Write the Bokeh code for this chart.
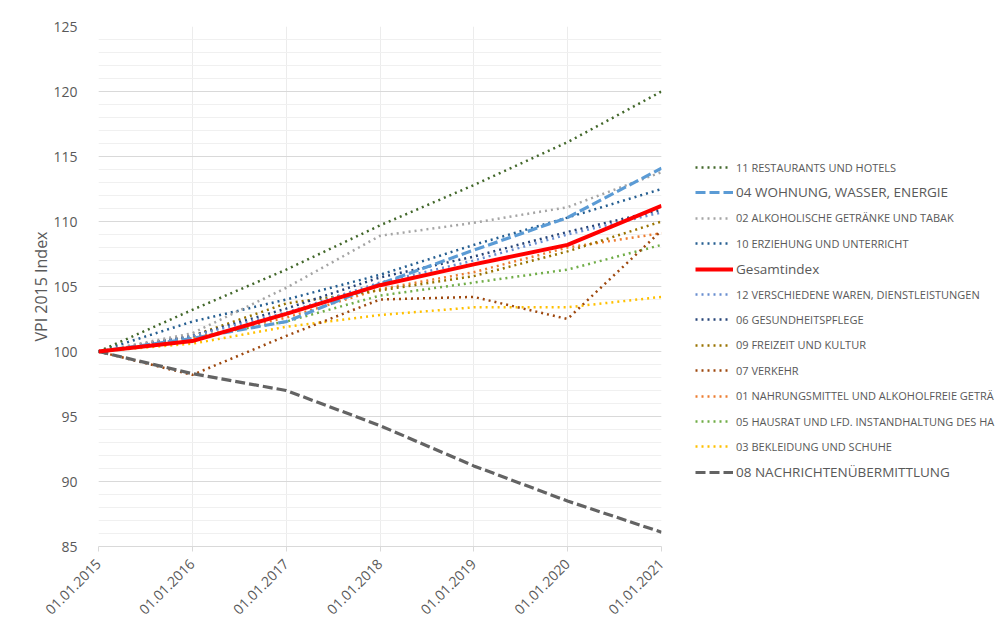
import math
import pandas as pd
from bokeh.plotting import figure
from bokeh.layouts import row
from bokeh.models import FixedTicker, Legend, LegendItem, Range1d, DatetimeTickFormatter
from bokeh.embed import file_html
from bokeh.resources import INLINE

# ---------------- data ----------------
dates = ["01.01.2015", "01.01.2016", "01.01.2017", "01.01.2018",
         "01.01.2019", "01.01.2020", "01.01.2021"]
y_ticks = [85, 90, 95, 100, 105, 110, 115, 120, 125]
y_minor = list(range(85, 126))

gesamtindex = [100, 100.8, 102.9, 105.1, 106.7, 108.2, 111.2]
s01 = [100, 101.0, 102.6, 104.8, 106.1, 108.0, 109.1]
s02 = [100, 101.4, 104.9, 108.9, 109.9, 111.1, 113.8]
s03 = [100, 100.6, 101.9, 102.8, 103.4, 103.4, 104.2]
s04 = [100, 101.0, 102.3, 105.2, 107.8, 110.3, 114.1]
s05 = [100, 101.1, 102.3, 104.3, 105.3, 106.3, 108.2]
s06 = [100, 101.2, 103.3, 105.7, 107.3, 109.2, 110.9]
s07 = [100, 98.2, 101.2, 104.0, 104.2, 102.5, 109.3]
s08 = [100, 98.3, 97.0, 94.3, 91.2, 88.5, 86.1]
s09 = [100, 101.2, 103.7, 104.7, 105.8, 107.7, 110.0]
s10 = [100, 102.3, 104.0, 105.9, 108.2, 110.3, 112.5]
s11 = [100, 103.2, 106.3, 109.7, 112.8, 116.1, 120.0]
s12 = [100, 101.2, 103.0, 105.3, 107.0, 109.0, 110.7]

# legend order: (label, values, color, style)
series = [
    ("11 RESTAURANTS UND HOTELS", s11, "#43682B", "dot"),
    ("04 WOHNUNG, WASSER, ENERGIE", s04, "#5B9BD5", "dash"),
    ("02 ALKOHOLISCHE GETRÄNKE UND TABAK", s02, "#A5A5A5", "dot"),
    ("10 ERZIEHUNG UND UNTERRICHT", s10, "#255E91", "dot"),
    ("Gesamtindex", gesamtindex, "#FF0000", "solid"),
    ("12 VERSCHIEDENE WAREN, DIENSTLEISTUNGEN", s12, "#698ED0", "dot"),
    ("06 GESUNDHEITSPFLEGE", s06, "#264478", "dot"),
    ("09 FREIZEIT UND KULTUR", s09, "#997300", "dot"),
    ("07 VERKEHR", s07, "#9E480E", "dot"),
    ("01 NAHRUNGSMITTEL UND ALKOHOLFREIE GETRÄ", s01, "#ED7D31", "dot"),
    ("05 HAUSRAT UND LFD. INSTANDHALTUNG DES HA", s05, "#70AD47", "dot"),
    ("03 BEKLEIDUNG UND SCHUHE", s03, "#FFC000", "dot"),
    ("08 NACHRICHTENÜBERMITTLUNG", s08, "#636363", "dash"),
]

xs = pd.to_datetime(dates, format="%d.%m.%Y")
x_ms = (xs.astype("int64") // 10**6).tolist()

FONT = "Open Sans"
TXT = "#595959"
H = 622


def style_kw(style, col):
    if style == "dot":
        return dict(line_color=col, line_width=2.5, line_dash="2 4")
    if style == "dash":
        return dict(line_color=col, line_width=3.2, line_dash="10 4")
    return dict(line_color=col, line_width=4)


p = figure(
    x_axis_type="datetime",
    x_range=Range1d(xs[0], xs[-1]),
    y_range=Range1d(85, 125),
    width=681, height=H,
    min_border_left=98, min_border_right=20,
    min_border_top=26, min_border_bottom=H - 546,
    output_backend="svg", toolbar_location=None,
    background_fill_color="white", border_fill_color="white",
)
p.outline_line_color = None

# axes
p.xaxis.ticker = FixedTicker(ticks=x_ms)
p.xaxis.formatter = DatetimeTickFormatter(
    years="%d.%m.%Y", months="%d.%m.%Y", days="%d.%m.%Y",
    hours="%d.%m.%Y", minutes="%d.%m.%Y", seconds="%d.%m.%Y",
    milliseconds="%d.%m.%Y", microseconds="%d.%m.%Y")
p.xaxis.major_label_orientation = math.pi / 4
p.xaxis.axis_line_color = "#d9d9d9"
p.xaxis.major_tick_line_color = "#d9d9d9"
p.xaxis.major_tick_out = 5
p.xaxis.major_tick_in = 0
p.xaxis.minor_tick_line_color = None
p.xaxis.major_label_text_font = FONT
p.xaxis.major_label_text_font_size = "14px"
p.xaxis.major_label_text_color = TXT
p.xaxis.major_label_standoff = 10

p.yaxis.ticker = FixedTicker(ticks=y_ticks, minor_ticks=y_minor)
p.yaxis.axis_line_color = None
p.yaxis.major_tick_line_color = None
p.yaxis.minor_tick_line_color = None
p.yaxis.major_label_text_font = FONT
p.yaxis.major_label_text_font_size = "14px"
p.yaxis.major_label_text_color = TXT
p.yaxis.major_label_standoff = 15
p.yaxis.axis_label = "VPI 2015 Index"
p.yaxis.axis_label_text_font = FONT
p.yaxis.axis_label_text_font_size = "16px"
p.yaxis.axis_label_text_font_style = "normal"
p.yaxis.axis_label_text_color = TXT
p.yaxis.axis_label_standoff = -2

p.xgrid.grid_line_color = "#ececec"
p.ygrid.grid_line_color = "#d9d9d9"
p.ygrid.minor_grid_line_color = "#f0f0f0"

# lines
draw_order = [s for s in series if s[3] == "dot"][::-1] + \
             [s for s in series if s[3] == "dash"] + \
             [s for s in series if s[3] == "solid"]
for lab, vals, col, style in draw_order:
    p.line(xs, vals, **style_kw(style, col))

# legend panel: a second, axis-less figure to the right whose ranges keep
# its copies of the series out of view (only their legend glyphs show)
pl = figure(
    width=995 - 681, height=H,
    x_range=Range1d(0, 1), y_range=Range1d(0, 1),
    min_border_left=0, min_border_right=0, min_border_top=0, min_border_bottom=0,
    output_backend="svg", toolbar_location=None,
    background_fill_color="white", border_fill_color="white",
)
pl.axis.visible = False
pl.grid.visible = False
pl.outline_line_color = None

first_y = 167
step = 25.4
frame_bottom = 546
for i, (lab, vals, col, style) in enumerate(series):
    big = style != "dot"
    r = pl.line(x_ms, vals, **style_kw(style, col))
    yc = first_y + i * step
    leg = Legend(
        items=[LegendItem(label=lab, renderers=[r])],
        location=(14, frame_bottom - yc - 10),
        padding=0, margin=0, spacing=0,
        border_line_color=None, background_fill_alpha=0,
        glyph_width=38 if big else 36, glyph_height=20, label_height=20,
        label_standoff=3 if big else 5,
        label_text_font=FONT,
        label_text_font_size="13.5px" if big else "11px",
        label_text_color=TXT,
    )
    pl.add_layout(leg)

layout = row(p, pl)
open("out.html", "w").write(file_html(layout, INLINE))
